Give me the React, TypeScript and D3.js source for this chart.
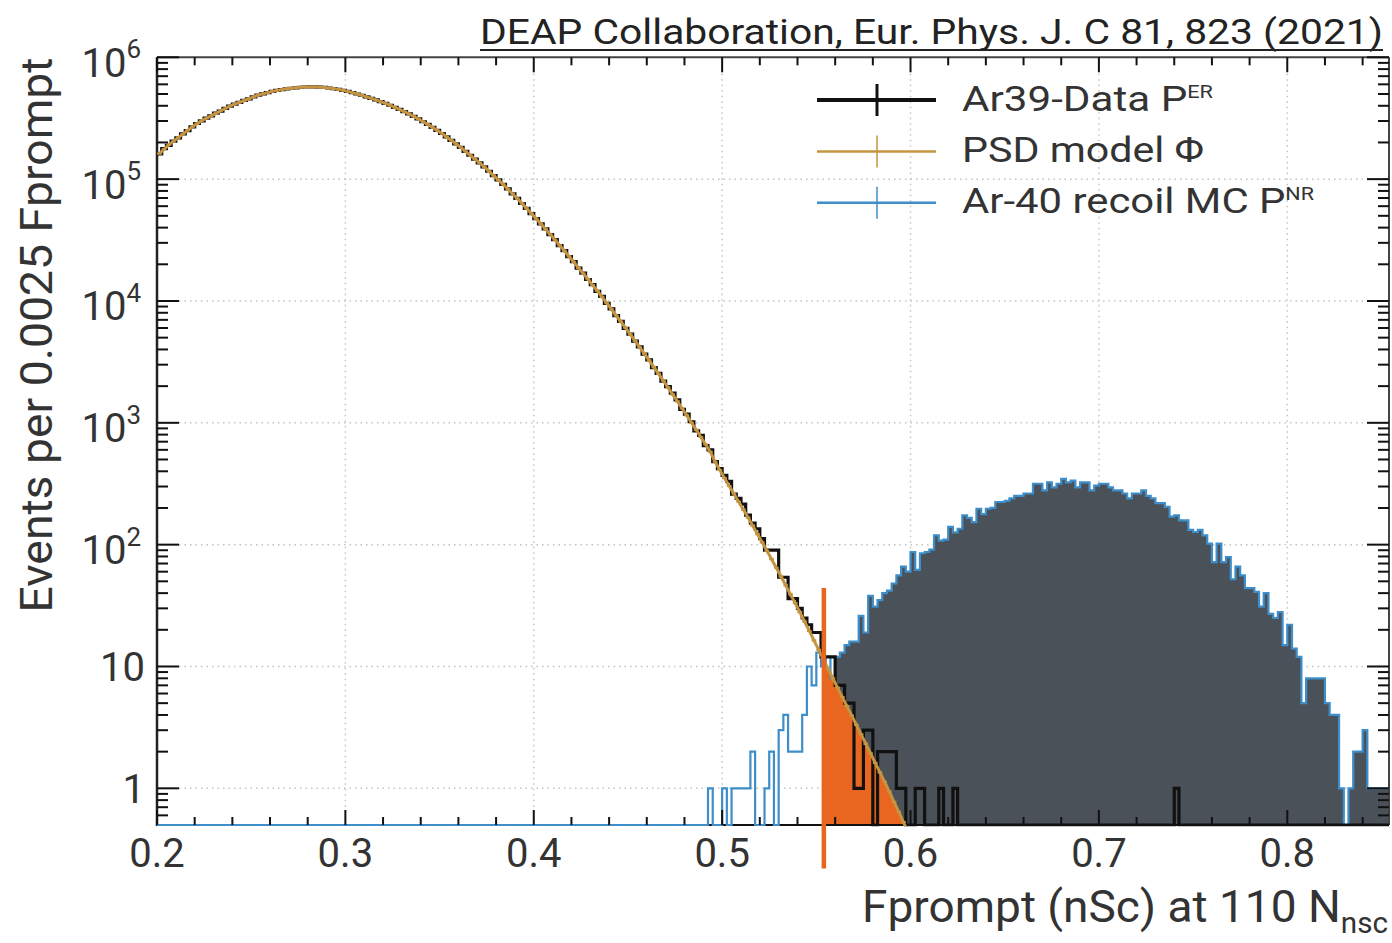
import React from 'react';
import * as d3 from 'd3';

// ---------- data ----------
const binWidth = 0.0025;
const xDomain: [number, number] = [0.2, 0.854];
const yDomain: [number, number] = [0.5, 1e6];

// Ar39 data (P^ER), events per bin, bins start at 0.2
const erStart = 0.2;
const erData = [
  160800, 177900, 189600, 205400, 218100, 235300, 250200, 268100, 286200, 301000,
  317100, 330200, 347900, 362100, 380800, 397200, 412900, 426100, 442800, 456300,
  473700, 489200, 501600, 512400, 525500, 534600, 543400, 550500, 557300, 561600,
  567700, 570400, 570800, 571300, 568600, 565400, 559600, 553300, 545700, 536200,
  524700, 513200, 499800, 488100, 473900, 460200, 446800, 433100, 417900, 404100,
  387900, 373100, 357900, 343100, 326900, 312100, 295900, 281100, 265900, 251100,
  236800, 222100, 208000, 194900, 182100, 168900, 157100, 145900, 136100, 125900,
  116100, 106900, 98700, 90500, 83100, 75800, 69400, 63100, 57600, 52100,
  47500, 42900, 39000, 35100, 31900, 28500, 25900, 23100, 21000, 18600,
  16900, 15000, 13600, 12000, 10900, 9550, 8600, 7570, 6800, 5960,
  5350, 4690, 4200, 3660, 3280, 2840, 2550, 2200, 1980, 1750,
  1540, 1290, 1180, 1020, 860, 790, 650, 600, 480, 420,
  370, 330, 260, 240, 215, 175, 150, 135, 112, 90,
  90, 90, 54, 54, 36, 36, 30, 25, 22, 19,
  19, 12, 12, 12, 7, 7, 5, 5, 1, 1,
  3, 3, 0, 2, 2, 2, 2, 1, 1, 0,
  0, 1, 1, 0, 0, 0, 1, 0, 0, 1,
  0, 0, 0, 0, 0, 0, 0, 0, 0, 0,
  0, 0, 0, 0, 0, 0, 0, 0, 0, 0,
  0, 0, 0, 0, 0, 0, 0, 0, 0, 0,
  0, 0, 0, 0, 0, 0, 0, 0, 0, 0,
  0, 0, 0, 0, 0, 0, 1,
];

// PSD model Phi, bins start at 0.2
const modelStart = 0.2;
const psdModel = [
  162000, 176000, 191000, 204000, 219000, 234000, 251000, 269000, 285000, 302000,
  316000, 331000, 347000, 363000, 380000, 398000, 412000, 427000, 442000, 457000,
  473000, 490000, 501000, 513000, 525000, 535000, 543000, 551000, 557000, 562000,
  568000, 570000, 571000, 571000, 569000, 565000, 560000, 553000, 546000, 536000,
  525000, 513000, 500000, 488000, 474000, 460000, 447000, 433000, 418000, 404000,
  388000, 373000, 358000, 343000, 327000, 312000, 296000, 281000, 266000, 251000,
  237000, 222000, 208000, 195000, 182000, 169000, 157000, 146000, 136000, 126000,
  116000, 107000, 98600, 90600, 83000, 75900, 69300, 63200, 57500, 52200,
  47400, 43000, 38900, 35200, 31800, 28600, 25800, 23200, 20900, 18700,
  16800, 15100, 13500, 12100, 10800, 9590, 8550, 7600, 6760, 6000,
  5320, 4710, 4170, 3680, 3250, 2860, 2520, 2220, 1950, 1710,
  1500, 1310, 1150, 1000, 875, 762, 664, 577, 479, 410,
  352, 303, 262, 225, 194, 167, 143, 122, 104.5, 89.1,
  76.0, 64.6, 54.7, 46.3, 39.2, 33.1, 27.9, 23.4, 19.6, 16.4,
  13.7, 11.5, 9.53, 8.0, 6.71, 5.62, 4.72, 3.96, 3.32, 2.77,
  2.32, 1.94, 1.62, 1.35, 1.13, 0.938, 0.774, 0.64, 0.527, 0.432,
];

// Ar-40 recoil MC (P^NR), bins start at 0.49
const nrStart = 0.49;
const nrMC = [
  0, 1, 0, 0, 1, 0, 1, 1, 1, 1,
  2, 0, 0, 1, 2, 0, 3, 4, 2, 2,
  2, 4, 10, 7, 13, 10, 12, 8, 12, 13,
  15, 16, 16, 26, 19, 38, 31, 35, 40, 42,
  48, 56, 66, 60, 87, 62, 85, 87, 91, 119,
  108, 110, 140, 126, 135, 174, 166, 153, 197, 178,
  197, 200, 224, 224, 229, 240, 251, 251, 263, 263,
  316, 316, 279, 324, 295, 316, 347, 324, 335, 295,
  324, 324, 279, 305, 316, 316, 295, 279, 279, 263,
  240, 263, 263, 279, 251, 240, 219, 219, 204, 170,
  174, 158, 158, 132, 127, 132, 119, 102, 72, 102,
  72, 79, 52, 66, 56, 44, 44, 41, 31, 40,
  27, 25, 28, 15, 22, 14, 12, 5, 8, 8,
  8, 8, 5, 4, 4, 1, 0, 1, 2, 2,
  3, 1, 1, 1, 1, 1,
];
const nrFillFrom = 0.56;

// Fprompt cut
const cutX = 0.554;
const cutLineRange = [0.22, 44];

const xMajorTicks = [0.2, 0.3, 0.4, 0.5, 0.6, 0.7, 0.8];
const xTickLabels = ['0.2', '0.3', '0.4', '0.5', '0.6', '0.7', '0.8'];
const yDecadeExps = [0, 1, 2, 3, 4, 5, 6];

const legendItems = [
  { label: 'Ar39-Data P', sup: 'ER', color: '#111111', lw: 4, bw: 3, len: 251 },
  { label: 'PSD model \u03A6', sup: '', color: '#c59440', lw: 2.5, bw: 1.5, len: 242 },
  { label: 'Ar-40 recoil MC P', sup: 'NR', color: '#3d8ec9', lw: 2.5, bw: 1.5, len: 352 },
];

const titleText = 'DEAP Collaboration, Eur. Phys. J. C 81, 823 (2021)';
const yTitle = 'Events per 0.0025 Fprompt';
const xTitle = 'Fprompt (nSc) at 110 N';
const xTitleSub = 'nsc';

const FONT = "Roboto, 'Noto Sans', 'Liberation Sans', sans-serif";
const TXT = '#333333';

export default function App() {
  const x = d3.scaleLinear().domain(xDomain).range([157, 1389]);
  const y = d3.scaleLog().domain(yDomain).range([825, 57.3]);
  const [L, R] = x.range();
  const [B, T] = y.range();
  const yc = (v: number) => y(Math.max(v, yDomain[0]));
  const edge = (start: number, i: number) => x(start + i * binWidth);

  // ER data step
  let erPath = `M${edge(erStart, 0)},${yc(erData[0])}`;
  erData.forEach((v, i) => {
    if (i > 0) erPath += `V${yc(v)}`;
    erPath += `H${edge(erStart, i + 1)}`;
  });
  erPath += `V${B}H${R}`;

  // NR outline
  let nrPath = `M${L},${B}H${edge(nrStart, 0)}`;
  nrMC.forEach((v, i) => {
    nrPath += `V${yc(v)}H${edge(nrStart, i + 1)}`;
  });
  nrPath += `V${B}H${R}`;

  // NR fill
  const fillFirst = Math.round((nrFillFrom - nrStart) / binWidth);
  let nrFill = `M${edge(nrStart, fillFirst)},${B}`;
  for (let i = fillFirst; i < nrMC.length; i++) {
    nrFill += `V${yc(nrMC[i])}H${edge(nrStart, i + 1)}`;
  }
  nrFill += `V${B}Z`;

  // model
  const modelPts: [number, number][] = psdModel.map((v, i) => [modelStart + (i + 0.5) * binWidth, v]);
  const modelLine = d3.line<[number, number]>().x((d) => x(d[0])).y((d) => y(d[1]))(modelPts) || '';
  let modelBars = '';
  psdModel.forEach((v, i) => {
    modelBars += `M${edge(modelStart, i)},${y(v)}H${edge(modelStart, i + 1)}`;
  });

  // orange region under model beyond cut
  const k = Math.floor((cutX - modelStart) / binWidth - 0.5);
  const c0 = modelStart + (k + 0.5) * binWidth;
  const t = (cutX - c0) / binWidth;
  const vCut = psdModel[k] * Math.pow(psdModel[k + 1] / psdModel[k], t);
  const orangePts: [number, number][] = [[cutX, vCut], ...modelPts.filter((p) => p[0] > cutX)];
  const orangeArea = d3.area<[number, number]>().x((d) => x(d[0])).y0(B).y1((d) => y(d[1]))(orangePts) || '';

  // ticks
  const xMinor = d3.range(0, 34)
    .map((j) => Math.round((0.2 + j * 0.02) * 1000) / 1000)
    .filter((v) => v <= xDomain[1] && !xMajorTicks.some((m) => Math.abs(m - v) < 1e-6));
  const yMinor: number[] = [];
  for (let e = -1; e <= 5; e++) {
    for (let m = 2; m <= 9; m++) {
      const v = m * Math.pow(10, e);
      if (v > yDomain[0] && v < yDomain[1]) yMinor.push(v);
    }
  }
  const yMajor = yDecadeExps.map((e) => Math.pow(10, e));

  const tickStroke = '#111';

  return (
    <svg width={1392} height={943} style={{ position: 'absolute', left: 0, top: 0, background: '#fff' }}
      fontFamily={FONT}>
      <defs>
        <clipPath id="plotClip">
          <rect x={L} y={T} width={R - L} height={B - T + 1.5} />
        </clipPath>
        <clipPath id="fillClip">
          <rect x={L} y={T} width={R - L} height={B - T} />
        </clipPath>
      </defs>

      {/* grid */}
      <g stroke="#c4c4c4" strokeWidth={1.5} strokeDasharray="1.5,4" fill="none">
        {xMajorTicks.filter((v) => v > xDomain[0]).map((v) => (
          <line key={'gx' + v} x1={x(v)} x2={x(v)} y1={T} y2={B} />
        ))}
        {yMajor.filter((v) => v < yDomain[1]).map((v) => (
          <line key={'gy' + v} x1={L} x2={R} y1={y(v)} y2={y(v)} />
        ))}
      </g>

      {/* fills */}
      <g clipPath="url(#fillClip)">
        <path d={nrFill} fill="#4b5158" stroke="none" />
        <path d={orangeArea} fill="#e8661f" stroke="none" />
      </g>

      {/* frame */}
      <g fill="none">
        <line x1={L} x2={R} y1={T} y2={T} stroke="#444" strokeWidth={2} />
        <line x1={R} x2={R} y1={T} y2={B} stroke="#444" strokeWidth={2} />
        <line x1={L} x2={R} y1={B} y2={B} stroke="#111" strokeWidth={2} />
        <line x1={L} x2={L} y1={T} y2={B + 1} stroke="#222" strokeWidth={2.5} />
      </g>

      {/* histograms */}
      <g clipPath="url(#plotClip)" fill="none">
        <path d={nrPath} stroke="#3d8ec9" strokeWidth={2.2} strokeLinejoin="miter" />
        <path d={erPath} stroke="#111" strokeWidth={3.2} strokeLinejoin="miter" />
        <path d={modelBars} stroke="#c59440" strokeWidth={2.2} />
        <path d={modelLine} stroke="#c59440" strokeWidth={3} />
      </g>

      {/* cut line */}
      <line x1={x(cutX)} x2={x(cutX)} y1={y(cutLineRange[1])} y2={y(cutLineRange[0])}
        stroke="#e8661f" strokeWidth={4.5} />

      {/* ticks */}
      <g stroke={tickStroke} strokeWidth={2}>
        {yMajor.map((v) => (
          <g key={'ym' + v}>
            <line x1={L} x2={L + 22} y1={y(v)} y2={y(v)} />
            <line x1={R} x2={R - 22} y1={y(v)} y2={y(v)} />
          </g>
        ))}
        {yMinor.map((v) => (
          <g key={'yn' + v}>
            <line x1={L} x2={L + 11} y1={y(v)} y2={y(v)} />
            <line x1={R} x2={R - 11} y1={y(v)} y2={y(v)} />
          </g>
        ))}
        {xMajorTicks.map((v) => (
          <g key={'xm' + v}>
            <line x1={x(v)} x2={x(v)} y1={B} y2={B - 15} />
            <line x1={x(v)} x2={x(v)} y1={T} y2={T + 15} />
          </g>
        ))}
        {xMinor.map((v) => (
          <g key={'xn' + v}>
            <line x1={x(v)} x2={x(v)} y1={B} y2={B - 8} />
            <line x1={x(v)} x2={x(v)} y1={T} y2={T + 8} />
          </g>
        ))}
      </g>

      {/* x tick labels */}
      <g fill={TXT} fontSize={40} textAnchor="middle">
        {xMajorTicks.map((v, i) => (
          <text key={'xl' + v} x={x(v)} y={867}>{xTickLabels[i]}</text>
        ))}
      </g>

      {/* y tick labels */}
      <g fill={TXT} fontSize={40} textAnchor="end">
        {yDecadeExps.map((e) => {
          const py = y(Math.pow(10, e));
          if (e === 0) return <text key="yl0" x={145} y={py + 15}>1</text>;
          if (e === 1) return <text key="yl1" x={145} y={py + 15}>10</text>;
          return (
            <text key={'yl' + e} x={141} y={py + 19.5}>
              10<tspan fontSize={26} dy={-18.5}>{String(e)}</tspan>
            </text>
          );
        })}
      </g>

      {/* axis titles */}
      <text x={862} y={922} fill={TXT} fontSize={45} textLength={526} lengthAdjust="spacingAndGlyphs">
        {xTitle}<tspan fontSize={29} dy={11}>{xTitleSub}</tspan>
      </text>
      <text transform="translate(52,335) rotate(-90)" fill={TXT} fontSize={45} textAnchor="middle"
        textLength={555} lengthAdjust="spacingAndGlyphs">
        {yTitle}
      </text>

      {/* title */}
      <text x={480} y={44} fill="#222" fontSize={35} textLength={903} lengthAdjust="spacingAndGlyphs">
        {titleText}
      </text>
      <line x1={480} x2={1383} y1={50} y2={50} stroke="#222" strokeWidth={2} />

      {/* legend */}
      {legendItems.map((it, i) => {
        const ly = 100 + i * 51.4;
        return (
          <g key={'lg' + i}>
            <line x1={817} x2={936} y1={ly} y2={ly} stroke={it.color} strokeWidth={it.lw} />
            <line x1={877} x2={877} y1={ly - 16} y2={ly + 16} stroke={it.color} strokeWidth={it.bw} />
            <text x={962} y={ly + 10.5} fill={TXT} fontSize={35} textLength={it.len} lengthAdjust="spacingAndGlyphs">
              {it.label}
              {it.sup ? <tspan fontSize={18} dy={-13}>{it.sup}</tspan> : null}
            </text>
          </g>
        );
      })}
    </svg>
  );
}
